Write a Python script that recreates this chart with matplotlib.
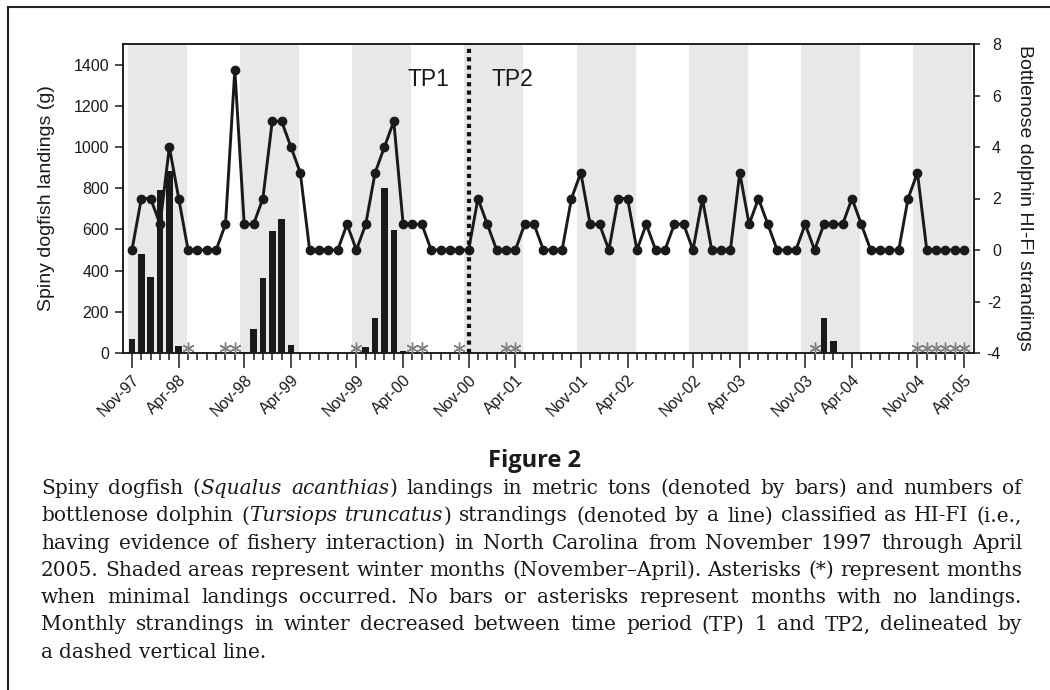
import matplotlib
matplotlib.use('Agg')
import matplotlib.pyplot as plt
from matplotlib.lines import Line2D
import numpy as np

# monthly values, Nov 1997 .. Apr 2005
strandings = [0, 2, 2, 1, 4, 2, 0, 0, 0, 0, 1, 7,
              1, 1, 2, 5, 5, 4, 3, 0, 0, 0, 0, 1,
              0, 1, 3, 4, 5, 1, 1, 1, 0, 0, 0, 0,
              0, 2, 1, 0, 0, 0, 1, 1, 0, 0, 0, 2,
              3, 1, 1, 0, 2, 2, 0, 1, 0, 0, 1, 1,
              0, 2, 0, 0, 0, 3, 1, 2, 1, 0, 0, 0,
              1, 0, 1, 1, 1, 2, 1, 0, 0, 0, 0, 2,
              3, 0, 0, 0, 0, 0]
landings = [70, 480, 370, 790, 885, 35, 0, 0, 0, 0, 0, 0,
            5, 115, 365, 590, 650, 40, 0, 0, 0, 0, 0, 0,
            0, 28, 170, 800, 595, 12, 0, 0, 0, 0, 0, 0,
            0, 0, 0, 0, 0, 0, 0, 0, 0, 0, 0, 0,
            0, 0, 0, 0, 0, 0, 0, 0, 0, 0, 0, 0,
            0, 0, 0, 0, 0, 0, 0, 0, 0, 0, 0, 0,
            0, 0, 172, 58, 0, 0, 0, 0, 0, 0, 0, 0,
            0, 0, 0, 0, 0, 0]
minimal = [6, 10, 11, 24, 30, 31, 35, 40, 41, 73, 84, 85, 86, 87, 88, 89]
winter_starts = [0, 12, 24, 36, 48, 60, 72, 84]
tp_split = 36
tick_pos = [0, 5, 12, 17, 24, 29, 36, 41, 48, 53, 60, 65, 72, 77, 84, 89]
tick_labels = ['Nov-97', 'Apr-98', 'Nov-98', 'Apr-99', 'Nov-99', 'Apr-00',
               'Nov-00', 'Apr-01', 'Nov-01', 'Apr-02', 'Nov-02', 'Apr-03',
               'Nov-03', 'Apr-04', 'Nov-04', 'Apr-05']

caption = [
    'Spiny dogfish (_Squalus acanthias_) landings in metric tons (denoted by bars) and numbers of',
    'bottlenose dolphin (_Tursiops truncatus_) strandings (denoted by a line) classified as HI-FI (i.e.,',
    'having evidence of fishery interaction) in North Carolina from November 1997 through April',
    '2005. Shaded areas represent winter months (November\u2013April). Asterisks (*) represent months',
    'when minimal landings occurred. No bars or asterisks represent months with no landings.',
    'Monthly strandings in winter decreased between time period (TP) 1 and TP2, delineated by',
    'a dashed vertical line.',
]

W, H = 1050, 690
ink = '#1a1a1a'
plt.rcParams['font.family'] = ['Liberation Sans', 'DejaVu Sans']
plt.rcParams['axes.unicode_minus'] = False

fig = plt.figure(figsize=(W / 100, H / 100), dpi=100)
ax = fig.add_axes([123 / W, 1 - 353 / H, (974 - 123) / W, (353 - 44) / H])
ax2 = ax.twinx()
ax.set_zorder(ax2.get_zorder() + 1)
ax.patch.set_visible(False)

months = np.arange(len(strandings))

# shaded winters (Nov-Apr)
for s in winter_starts:
    ax2.axvspan(s - 0.45, s + 5.85, color='#e8e8ea', lw=0, zorder=0)

ax2.plot(months, strandings, color=ink, lw=2.1, marker='o', ms=6, zorder=2)
ax.bar(months, landings, width=0.7, color=ink, zorder=3)
ax.plot(minimal, np.full(len(minimal), 25), ls='none', marker=(6, 2, 0), ms=8.5,
        mec='#808080', mew=1, zorder=3, clip_on=False)
ax.axvline(tp_split, color='#111111', lw=3, ls=(0, (1, 1)), zorder=4)

ax.text(tp_split - 2.1, 1330, 'TP1', ha='right', va='center', fontsize=16.5, color=ink)
ax.text(tp_split + 2.45, 1330, 'TP2', ha='left', va='center', fontsize=16.5, color=ink)

ax.set_xlim(-0.96, 90.05)
ax.set_ylim(0, 1500)
ax2.set_ylim(-4, 8)
ax.set_yticks(range(0, 1401, 200))
ax2.set_yticks(range(-4, 9, 2))
ax.set_xticks(months, minor=True)
ax.set_xticks(tick_pos)
ax.set_xticklabels(tick_labels, rotation=45, ha='right', va='top',
                   rotation_mode='anchor')

ax.tick_params(axis='x', which='major', length=11, width=1.1, pad=3, labelsize=11.5, colors=ink)
ax.tick_params(axis='x', which='minor', length=5, width=1.1, colors=ink)
ax.tick_params(axis='y', length=6, width=1.1, pad=4, labelsize=11.5, colors=ink)
ax2.tick_params(axis='y', length=4.5, width=1.1, pad=15, labelsize=11.5, colors=ink)
for lab in ax2.get_yticklabels():
    lab.set_ha('right')
for a in (ax, ax2):
    for sp in a.spines.values():
        sp.set_linewidth(1.1)
        sp.set_color(ink)

fig.text(47 / W, 1 - 198 / H, 'Spiny dogfish landings (g)', rotation=90,
         ha='center', va='center', fontsize=14, color=ink)
fig.text(1024 / W, 1 - 198 / H, 'Bottlenose dolphin HI-FI strandings', rotation=-90,
         ha='center', va='center', fontsize=14, color=ink)

# frame of the figure panel
fig.add_artist(Line2D([8 / W, 1], [1 - 7 / H, 1 - 7 / H], transform=fig.transFigure,
                      color='#222222', lw=1.5))
fig.add_artist(Line2D([8 / W, 8 / W], [0, 1 - 7 / H], transform=fig.transFigure,
                      color='#222222', lw=1.5))

fig.text(534 / W, 1 - 467 / H, 'Figure 2', ha='center', va='baseline',
         family=['Open Sans', 'DejaVu Sans'], weight='bold', fontsize=17, color=ink)

# justified caption
renderer = fig.canvas.get_renderer()
cap_kw = dict(family=['DejaVu Serif'], fontsize=14.5, color=ink, va='baseline', ha='left')


def measure(txt, style):
    t = fig.text(0, 0, txt, style=style, **cap_kw)
    w = t.get_window_extent(renderer).width
    t.remove()
    return w


space_w = measure('a a', 'normal') - measure('aa', 'normal')
cap_left, cap_right = 41, 1022
base0, lead = 494, 27.3
italic = False
for n, line in enumerate(caption):
    words = []
    for w in line.split(' '):
        pieces = []
        for k, part in enumerate(w.split('_')):
            if k:
                italic = not italic
            if part:
                st = 'italic' if italic else 'normal'
                pieces.append((part, st, measure(part, st)))
        words.append(pieces)
    widths = [sum(p[2] for p in wd) for wd in words]
    if n < len(caption) - 1:
        gap = (cap_right - cap_left - sum(widths)) / (len(words) - 1)
    else:
        gap = space_w
    x = cap_left
    y = base0 + n * lead
    for pieces in words:
        for txt, st, pw in pieces:
            fig.text(x / W, 1 - y / H, txt, style=st, **cap_kw)
            x += pw
        x += gap

fig.savefig('out.png', dpi=100)
